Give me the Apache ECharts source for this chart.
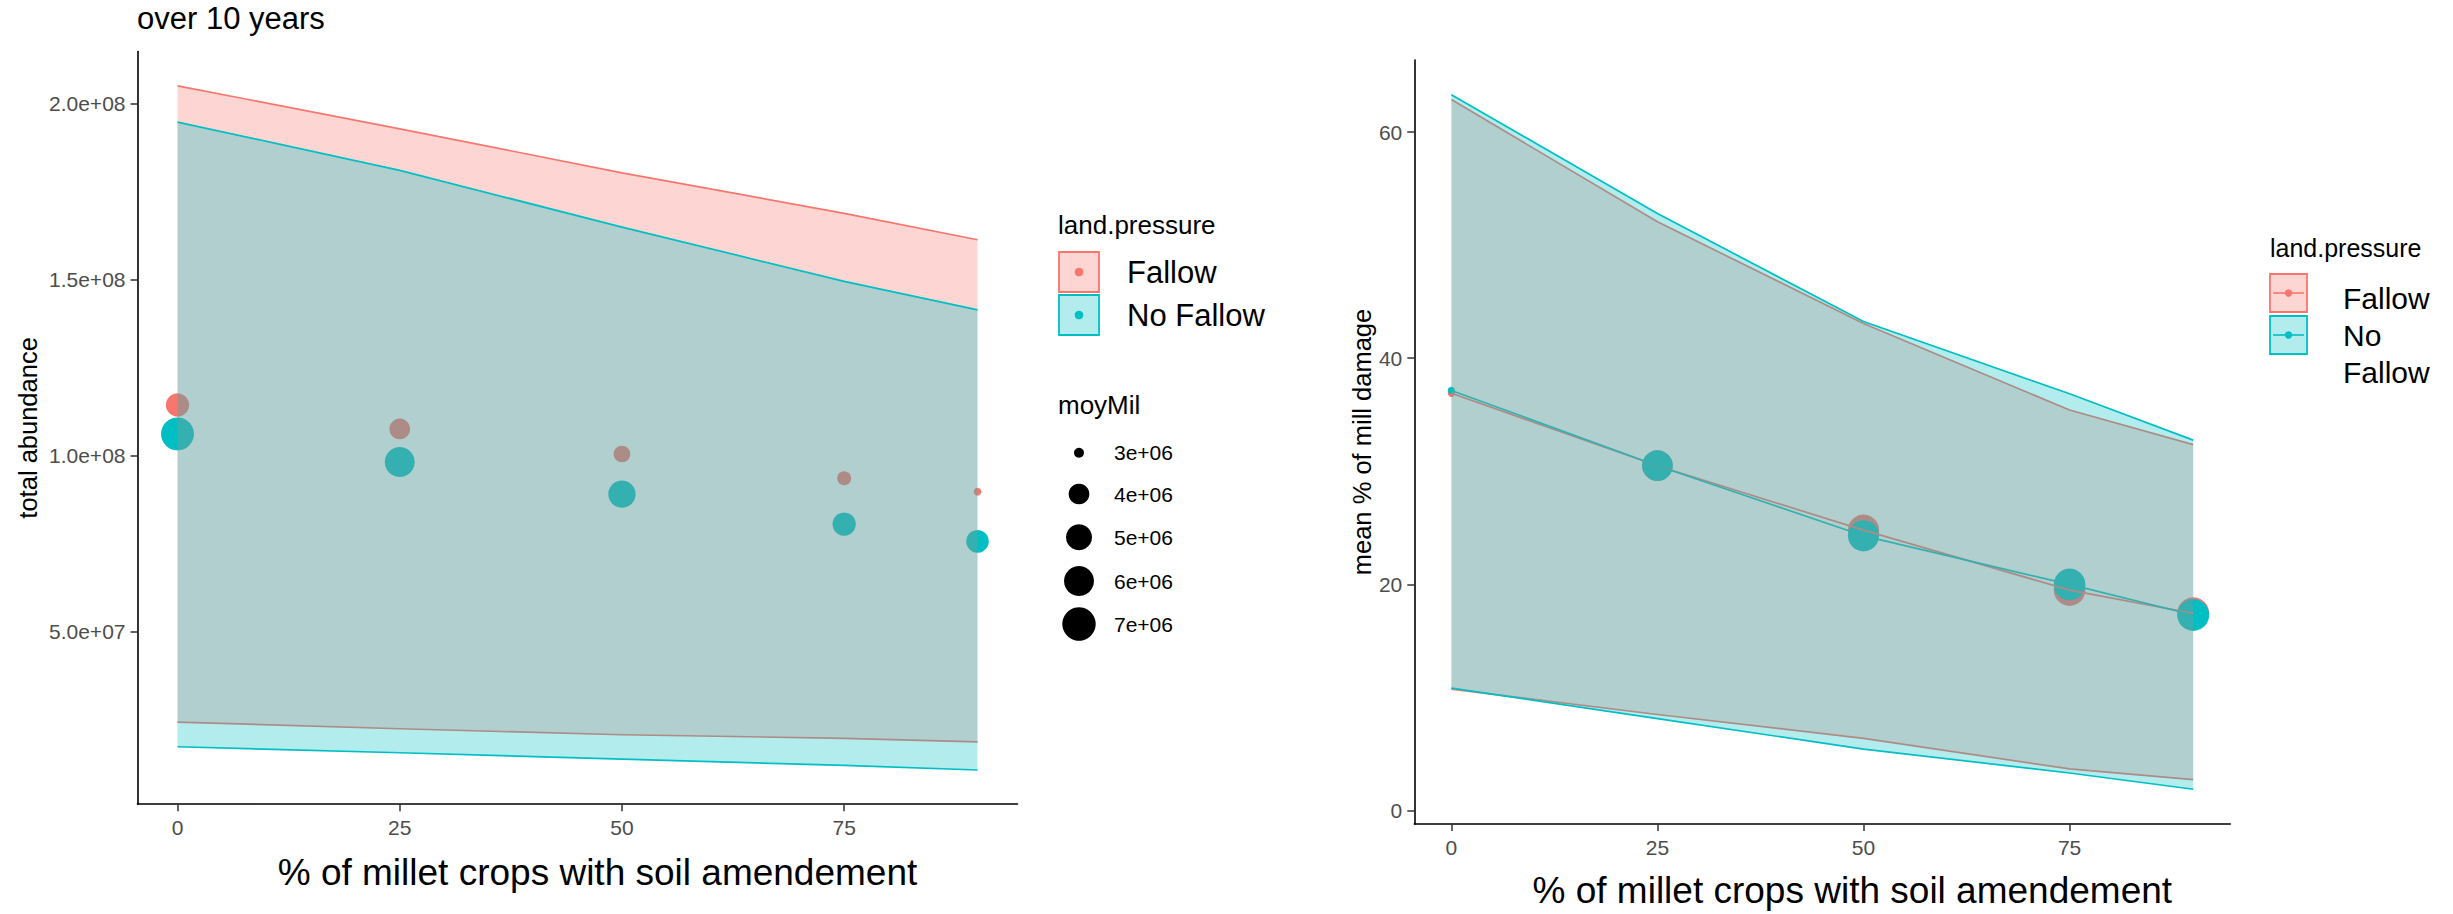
<!DOCTYPE html>
<html>
<head>
<meta charset="utf-8">
<script src="https://cdn.jsdelivr.net/npm/echarts@6/dist/echarts.min.js"></script>
<style>
  html, body { margin: 0; padding: 0; background: #fff; }
  #chart { width: 2453px; height: 914px; }
</style>
</head>
<body>
<div id="chart"></div>
<script>
// ---- data ----------------------------------------------------------------
const amendLevels = [0, 25, 50, 75, 90];   // % of millet crops with soil amendement

// total abundance (left panel)
const abundFallow        = [114.4e6, 107.6e6, 100.5e6, 93.6e6, 89.8e6];
const abundNoFallow      = [106.2e6, 98.2e6, 89.1e6, 80.6e6, 75.7e6];
const abundLowFallow     = [24.4e6, 22.5e6, 20.8e6, 19.8e6, 18.8e6];
const abundHighFallow    = [205.0e6, 192.8e6, 180.3e6, 168.8e6, 161.3e6];
const abundLowNoFallow   = [17.4e6, 15.7e6, 13.9e6, 12.1e6, 10.8e6];
const abundHighNoFallow  = [194.7e6, 181.0e6, 164.9e6, 149.5e6, 141.4e6];
const moyMilFallow       = [4.46e6, 4.0e6, 3.46e6, 3.21e6, 2.97e6];
const moyMilNoFallow     = [6.85e6, 6.0e6, 5.32e6, 4.46e6, 4.34e6];
const moyMilBreaks       = [3e6, 4e6, 5e6, 6e6, 7e6];

// mean % of mill damage (right panel)
const damageFallow       = [36.9, 30.5, 24.8, 19.5, 17.45];
const damageNoFallow     = [37.15, 30.5, 24.3, 20.0, 17.3];
const damageLowFallow    = [10.75, 8.5, 6.39, 3.69, 2.74];
const damageHighFallow   = [62.87, 52.07, 43.07, 35.42, 32.36];
const damageLowNoFallow  = [10.84, 8.14, 5.44, 3.33, 1.89];
const damageHighNoFallow = [63.3, 52.8, 43.25, 36.86, 32.76];
const weightFallow       = [0.05, 0.95, 0.97, 0.99, 1.0];
const weightNoFallow     = [0.05, 0.95, 0.97, 0.99, 1.0];

const xTicks      = [0, 25, 50, 75];
const abundTicks  = [5e7, 1e8, 1.5e8, 2e8];
const damageTicks = [0, 20, 40, 60];
const groupNames  = ['Fallow', 'No Fallow'];

// ---- styling helpers -------------------------------------------------------
const RED = '#F8766D', CYAN = '#00BFC4';
const RED_FILL = 'rgba(248,118,109,0.3)', CYAN_FILL = 'rgba(0,191,196,0.3)';
const FONT = '"Liberation Sans", Arial, sans-serif';

// area-style size scale for moyMil
function moySize(v) { return 7.7 + 12.8 * Math.sqrt(Math.max(0, (v - 2.97e6) / 1e6)); }
function weightSize(w) { return 6 + 26 * w; }

function sci(v) {
  const e = Math.floor(Math.log10(Math.abs(v)));
  const m = (v / Math.pow(10, e)).toFixed(1);
  const sign = e < 0 ? '-' : '+';
  return m + 'e' + sign + String(Math.abs(e)).padStart(2, '0');
}

function expand(lists, mult) {
  const all = [].concat(...lists);
  const lo = Math.min(...all), hi = Math.max(...all);
  const pad = (hi - lo) * mult;
  return [lo - pad, hi + pad];
}
const xRange = expand([amendLevels], 0.05);
const abundRange = expand([abundLowFallow, abundHighFallow, abundLowNoFallow, abundHighNoFallow], 0.05);
const damageRange = expand([damageLowFallow, damageHighFallow, damageLowNoFallow, damageHighNoFallow], 0.05);

function rows(...cols) { return amendLevels.map((x, i) => [x, ...cols.map(c => c[i])]); }

// ribbon drawn as one polygon with upper and lower outlines
function ribbon(name, lo, hi, color, fill, axis, z) {
  return {
    type: 'custom', name, xAxisIndex: axis, yAxisIndex: axis, z,
    data: rows(lo, hi),
    encode: { x: 0, y: [1, 2] },
    renderItem(params, api) {
      if (params.dataIndexInside !== 0) return null;
      const n = params.dataInsideLength;
      const up = [], low = [];
      for (let i = 0; i < n; i++) {
        up.push(api.coord([api.value(0, i), api.value(2, i)]));
        low.push(api.coord([api.value(0, i), api.value(1, i)]));
      }
      return {
        type: 'group',
        children: [
          { type: 'polygon', shape: { points: up.concat(low.slice().reverse()) }, style: { fill, stroke: null } },
          { type: 'polyline', shape: { points: up }, style: { stroke: color, lineWidth: 1.7, fill: null } },
          { type: 'polyline', shape: { points: low }, style: { stroke: color, lineWidth: 1.7, fill: null } }
        ]
      };
    }
  };
}

function points(name, ys, sizes, sizeFn, color, axis, z) {
  return {
    type: 'scatter', name, xAxisIndex: axis, yAxisIndex: axis, z,
    data: rows(ys, sizes),
    symbol: 'circle',
    symbolSize: v => sizeFn(v[2]),
    itemStyle: { color, opacity: 1 }
  };
}

function meanLine(name, ys, color, axis, z) {
  return {
    type: 'line', name, xAxisIndex: axis, yAxisIndex: axis, z,
    data: rows(ys), symbol: 'none',
    lineStyle: { color, width: 1.7 }
  };
}

function xAxisCfg(grid, gap, shift) {
  return {
    type: 'value', gridIndex: grid, min: xRange[0], max: xRange[1],
    name: '% of millet crops with soil amendement',
    nameLocation: 'middle', nameGap: gap,
    nameTextStyle: { fontFamily: FONT, fontSize: 37, color: '#000', padding: [0, 0, 0, shift] },
    axisLine: { show: true, onZero: false, lineStyle: { color: '#000', width: 1.6 } },
    axisTick: { show: true, customValues: xTicks, length: 7, lineStyle: { color: '#333', width: 1.5 } },
    axisLabel: { customValues: xTicks, color: '#4D4D4D', fontFamily: FONT, fontSize: 21, margin: 13 },
    splitLine: { show: false }
  };
}

function yAxisCfg(grid, range, ticks, name, gap, fmt) {
  return {
    type: 'value', gridIndex: grid, min: range[0], max: range[1],
    name, nameLocation: 'middle', nameGap: gap,
    nameTextStyle: { fontFamily: FONT, fontSize: 25.5, color: '#000' },
    axisLine: { show: true, onZero: false, lineStyle: { color: '#000', width: 1.6 } },
    axisTick: { show: true, customValues: ticks, length: 7, lineStyle: { color: '#333', width: 1.5 } },
    axisLabel: { customValues: ticks, color: '#4D4D4D', fontFamily: FONT, fontSize: 21, margin: 12, formatter: fmt },
    splitLine: { show: false }
  };
}

// ---- legends (drawn as graphics) -----------------------------------------
function txt(text, x, y, size, extra) {
  return Object.assign({ type: 'text', x, y, style: { text, fontFamily: FONT, fontSize: size, fill: '#000', verticalAlign: 'middle', align: 'left' } }, extra || {});
}
const legendEls = [];
// left panel legend
legendEls.push(txt('land.pressure', 1058, 225, 26));
[[RED, RED_FILL, 252], [CYAN, CYAN_FILL, 295]].forEach(([c, f, y], i) => {
  legendEls.push({ type: 'rect', shape: { x: 1059, y, width: 40, height: 40 }, style: { fill: f, stroke: c, lineWidth: 1.8 } });
  legendEls.push({ type: 'circle', shape: { cx: 1079, cy: y + 20, r: 4.3 }, style: { fill: c } });
  legendEls.push(txt(groupNames[i], 1127, y + 20, 31));
});
legendEls.push(txt('moyMil', 1058, 405, 26));
const sizeRowsY = [452.7, 494, 537.3, 581, 624];
moyMilBreaks.forEach((b, i) => {
  legendEls.push({ type: 'circle', shape: { cx: 1079, cy: sizeRowsY[i], r: moySize(b) / 2 }, style: { fill: '#000' } });
  legendEls.push(txt(sci(b).replace('.0', ''), 1114, sizeRowsY[i], 21));
});
// right panel legend
legendEls.push(txt('land.pressure', 2270, 248, 25));
[[RED, RED_FILL, 274], [CYAN, CYAN_FILL, 316]].forEach(([c, f, y]) => {
  legendEls.push({ type: 'rect', shape: { x: 2270, y, width: 37, height: 38 }, style: { fill: f, stroke: c, lineWidth: 1.8 } });
  legendEls.push({ type: 'line', shape: { x1: 2273, y1: y + 19, x2: 2304, y2: y + 19 }, style: { stroke: c, lineWidth: 1.6 } });
  legendEls.push({ type: 'circle', shape: { cx: 2288.5, cy: y + 19, r: 3.7 }, style: { fill: c } });
});
legendEls.push(txt('Fallow', 2343, 298, 30));
legendEls.push(txt('No', 2343, 335, 30));
legendEls.push(txt('Fallow', 2343, 372, 30));

// ---- chart ---------------------------------------------------------------
const chart = echarts.init(document.getElementById('chart'), null, { renderer: 'svg' });
chart.setOption({
  animation: false,
  backgroundColor: '#fff',
  textStyle: { fontFamily: FONT },
  title: {
    text: 'over 10 years', left: 137, top: 3, padding: 0,
    textStyle: { fontFamily: FONT, fontSize: 31, fontWeight: 'normal', color: '#000' }
  },
  grid: [
    { left: 137.5, top: 51.6, width: 880, height: 752.6 },
    { left: 1414.3, top: 60, width: 816, height: 765.8 }
  ],
  xAxis: [xAxisCfg(0, 50, 40), xAxisCfg(1, 48, 60)],
  yAxis: [
    yAxisCfg(0, abundRange, abundTicks, 'total abundance', 97, v => sci(v)),
    yAxisCfg(1, damageRange, damageTicks, 'mean % of mill damage', 39, v => String(v))
  ],
  series: [
    // left panel: points beneath the ribbons
    points('Fallow', abundFallow, moyMilFallow, moySize, RED, 0, 2),
    points('No Fallow', abundNoFallow, moyMilNoFallow, moySize, CYAN, 0, 2),
    ribbon('Fallow band', abundLowFallow, abundHighFallow, RED, RED_FILL, 0, 5),
    ribbon('No Fallow band', abundLowNoFallow, abundHighNoFallow, CYAN, CYAN_FILL, 0, 6),
    // right panel: points, mean lines, then ribbons
    points('Fallow', damageFallow, weightFallow, weightSize, RED, 1, 2),
    points('No Fallow', damageNoFallow, weightNoFallow, weightSize, CYAN, 1, 2),
    meanLine('Fallow mean', damageFallow, RED, 1, 3),
    meanLine('No Fallow mean', damageNoFallow, CYAN, 1, 4),
    ribbon('Fallow band', damageLowFallow, damageHighFallow, RED, RED_FILL, 1, 5),
    ribbon('No Fallow band', damageLowNoFallow, damageHighNoFallow, CYAN, CYAN_FILL, 1, 6)
  ],
  graphic: legendEls
});
</script>
</body>
</html>
